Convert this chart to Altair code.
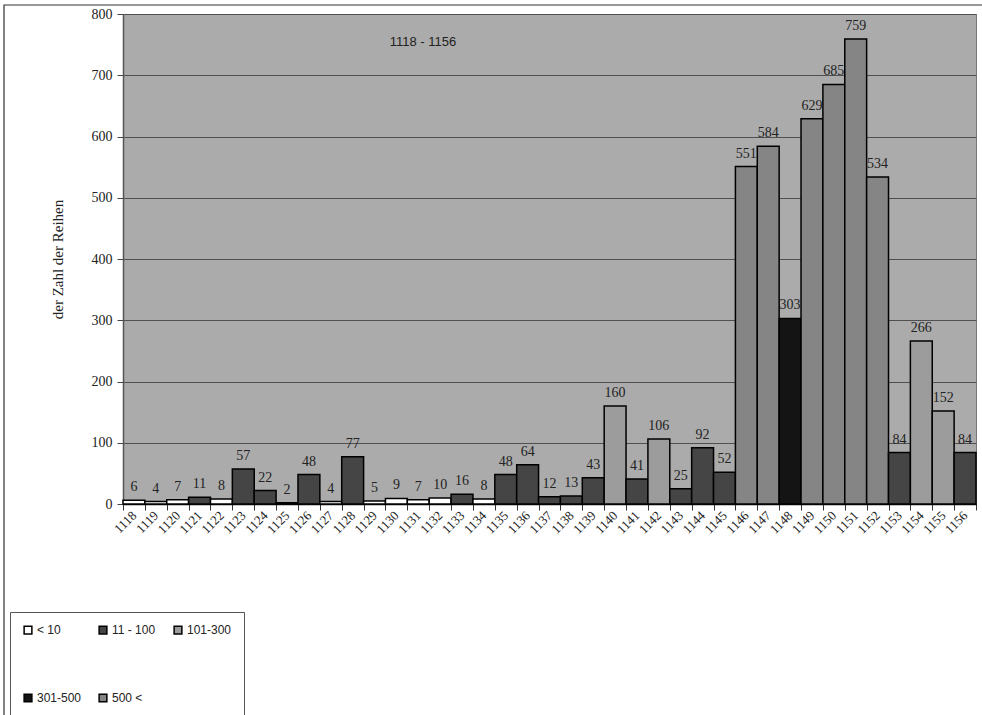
import altair as alt
import pandas as pd

years = [str(y) for y in range(1118, 1157)]
values = [6, 4, 7, 11, 8, 57, 22, 2, 48, 4, 77, 5, 9, 7, 10, 16, 8, 48, 64, 12,
          13, 43, 160, 41, 106, 25, 92, 52, 551, 584, 303, 629, 685, 759, 534, 84,
          266, 152, 84]
classes = ["< 10", "11 - 100", "101-300", "301-500", "500 <"]
class_colors = ["#ffffff", "#454545", "#9c9c9c", "#141414", "#858585"]


def classify(v):
    if v <= 10:
        return classes[0]
    if v <= 100:
        return classes[1]
    if v <= 300:
        return classes[2]
    if v <= 500:
        return classes[3]
    return classes[4]


df = pd.DataFrame({"year": years, "value": values,
                   "klasse": [classify(v) for v in values]})

W, H = 853, 490
PL, PT = 123, 14

xenc = alt.X("year:N", sort=years,
             scale=alt.Scale(paddingInner=0, paddingOuter=0),
             axis=alt.Axis(title=None, labelAngle=-45, labelAlign="right",
                           labelBaseline="middle", labelFont="Liberation Serif",
                           labelFontSize=13, labelColor="#222", labelPadding=3,
                           tickBand="extent", tickSize=6, tickColor="#333",
                           domainColor="#111", domainWidth=1.5, grid=False))

bars = alt.Chart(df).mark_bar(stroke="#000", strokeWidth=1.5).encode(
    x=xenc,
    y=alt.Y("value:Q", scale=alt.Scale(domain=[0, 800]),
            axis=alt.Axis(title="der Zahl der Reihen", values=list(range(0, 801, 100)),
                          titleFont="Liberation Serif", titleFontSize=15,
                          titleFontWeight="normal", titleColor="#222",
                          titlePadding=26,
                          labelFont="Liberation Serif", labelFontSize=14,
                          labelColor="#222", labelPadding=5,
                          tickSize=6, tickColor="#444",
                          domainColor="#555", domainWidth=1.5,
                          grid=True, gridColor="#505050", gridWidth=1.2)),
    fill=alt.Fill("klasse:N", sort=classes,
                  scale=alt.Scale(domain=classes, range=class_colors),
                  legend=alt.Legend(title=None, orient="none", legendX=-113,
                                    legendY=598, direction="horizontal",
                                    columns=3, gridAlign="all",
                                    columnPadding=14, rowPadding=54,
                                    padding=12, fillColor="#ffffff",
                                    strokeColor="#555",
                                    symbolType="square", symbolSize=60,
                                    symbolStrokeColor="#000",
                                    symbolStrokeWidth=1.5,
                                    labelFont="Liberation Sans",
                                    labelFontSize=12, labelColor="#222",
                                    labelOffset=3)),
)

labels = alt.Chart(df).mark_text(baseline="bottom", dy=-6,
                                 font="Liberation Serif", fontSize=14,
                                 color="#222").encode(
    x=alt.X("year:N", sort=years), y="value:Q", text="value:Q")

title = alt.Chart(pd.DataFrame({"t": ["1118 - 1156"]})).mark_text(
    font="Liberation Sans", fontSize=13, color="#222", align="center").encode(
    x=alt.value(300), y=alt.value(28), text="t:N")

frame = alt.Chart(pd.DataFrame({"a": [0]})).mark_rect(
    fill=None, stroke="#333", strokeWidth=1.2).encode(
    x=alt.value(4 - PL), x2=alt.value(990 - PL),
    y=alt.value(5 - PT), y2=alt.value(730 - PT))

chart = alt.layer(frame, bars, labels, title).properties(
    width=W, height=H,
    padding={"left": PL, "top": PT, "right": 982 - PL - W, "bottom": 715 - PT - H},
    autosize=alt.AutoSizeParams(type="none"),
    background="#ffffff",
).configure_view(fill="#ababab", stroke="#777", strokeWidth=1)

chart.save("out.html", embed_options={"renderer": "svg", "actions": False})
